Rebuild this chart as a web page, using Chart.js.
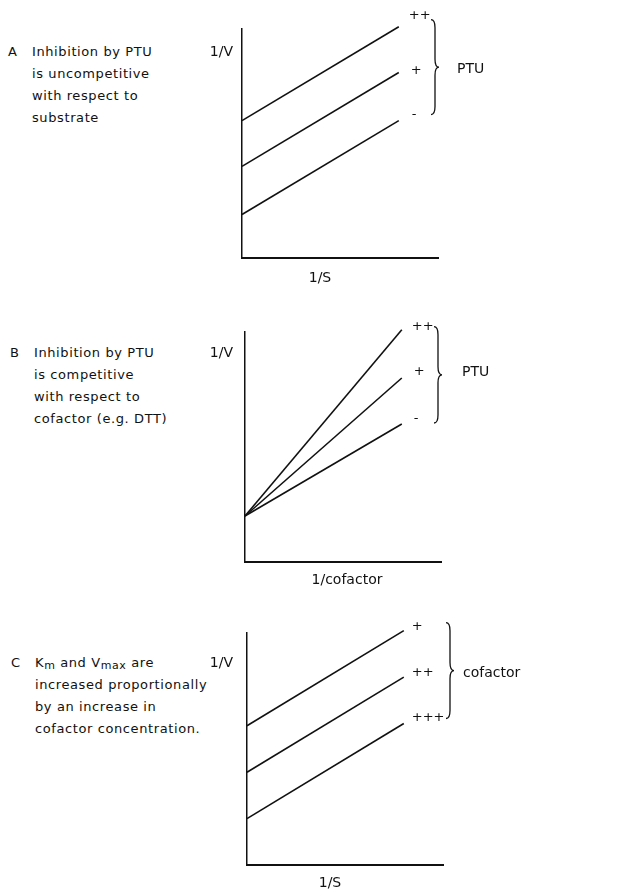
<!DOCTYPE html>
<html>
<head>
<meta charset="utf-8">
<script src="https://cdn.jsdelivr.net/npm/chart.js@4.4.1/dist/chart.umd.min.js"></script>
<style>
  html, body { margin: 0; padding: 0; background: #fff; }
  body { width: 619px; height: 891px; position: relative; overflow: hidden; font-family: "DejaVu Sans", sans-serif; color: #111; }
  canvas { position: absolute; left: 0; }
  .note { position: absolute; font-size: 13px; letter-spacing: 0.6px; line-height: 22px; white-space: nowrap; }
  .note .tag { position: absolute; left: -24px; }
  .note sub { font-size: 11px; vertical-align: -2px; line-height: 0; }
</style>
</head>
<body>
<div class="note" style="left:32px;top:41px"><span class="tag">A</span>Inhibition by PTU<br>is uncompetitive<br>with respect to<br>substrate</div>
<div class="note" style="left:34px;top:342px"><span class="tag">B</span>Inhibition by PTU<br>is competitive<br>with respect to<br>cofactor (e.g. DTT)</div>
<div class="note" style="left:35px;top:652px"><span class="tag">C</span>K<sub>m</sub> and V<sub>max</sub> are<br>increased proportionally<br>by an increase in<br>cofactor concentration.</div>

<canvas id="panelA" width="619" height="295" style="top:0"></canvas>
<canvas id="panelB" width="619" height="295" style="top:295px"></canvas>
<canvas id="panelC" width="619" height="301" style="top:590px"></canvas>

<script>
// x positions of the two ends of every line (1/S or 1/cofactor, arbitrary units)
const xPoints = [0, 1];

// panel A: uncompetitive, parallel lines
const levelsA = ['++', '+', '-'];
const seriesA = [[6.0, 10.1], [4.0, 8.1], [1.9, 6.0]];

// panel B: competitive, lines meet on the y axis
const levelsB = ['++', '+', '-'];
const seriesB = [[2.0, 10.1], [2.0, 8.0], [2.0, 6.0]];

// panel C: cofactor concentration
const levelsC = ['+', '++', '+++'];
const seriesC = [[6.0, 10.1], [4.0, 8.1], [2.0, 6.1]];

const ink = '#111';
const font = '14px "DejaVu Sans", sans-serif';
const levelFont = '13px "DejaVu Sans", sans-serif';

function drawBrace(ctx, x, y0, y1) {
    const m = (y0 + y1) / 2;
    const w = 4;
    ctx.beginPath();
    ctx.moveTo(x - w, y0);
    ctx.quadraticCurveTo(x, y0, x, y0 + 2 * w);
    ctx.lineTo(x, m - 2 * w);
    ctx.quadraticCurveTo(x, m, x + w, m);
    ctx.quadraticCurveTo(x, m, x, m + 2 * w);
    ctx.lineTo(x, y1 - 2 * w);
    ctx.quadraticCurveTo(x, y1, x - w, y1);
    ctx.stroke();
}

const annotate = {
    id: 'annotate',
    afterDatasetsDraw(chart, args, opts) {
        const ctx = chart.ctx;
        const a = chart.chartArea;
        const n = chart.data.datasets.length;
        ctx.save();
        ctx.fillStyle = ink;
        ctx.strokeStyle = ink;
        ctx.lineWidth = 1.3;
        ctx.font = font;
        ctx.textBaseline = 'middle';

        ctx.textAlign = 'right';
        ctx.fillText('1/V', a.left + opts.yTitleDx, a.top + opts.yTitleDy);

        ctx.textAlign = 'center';
        ctx.fillText(opts.xTitle, a.left + opts.xTitleDx, a.bottom + opts.xTitleDy);

        ctx.textAlign = 'left';
        ctx.font = levelFont;
        chart.data.datasets.forEach((ds, i) => {
            const end = chart.getDatasetMeta(i).data.at(-1);
            ctx.fillText(ds.label, end.x + opts.labelDx[i], end.y + opts.labelDy[i]);
        });

        ctx.font = font;
        const first = chart.getDatasetMeta(0).data.at(-1);
        const last = chart.getDatasetMeta(n - 1).data.at(-1);
        const bx = a.right + opts.braceDx;
        const top = first.y + opts.braceTop;
        const bottom = last.y + opts.braceBottom;
        drawBrace(ctx, bx, top, bottom);
        ctx.fillText(opts.group, bx + opts.groupDx, (top + bottom) / 2 + opts.groupDy);
        ctx.restore();
    }
};

function makePanel(id, levels, series, padding, notes) {
    const datasets = series.map((vals, i) => ({
        label: levels[i],
        data: xPoints.map((x, j) => ({ x: x, y: vals[j] })),
        borderColor: ink,
        borderWidth: 1.6,
        pointRadius: 0,
        tension: 0,
        clip: false
    }));

    new Chart(document.getElementById(id), {
        type: 'line',
        data: { datasets: datasets },
        options: {
            responsive: false,
            animation: false,
            devicePixelRatio: 1,
            layout: { padding: padding },
            plugins: {
                legend: { display: false },
                tooltip: { enabled: false },
                annotate: notes
            },
            scales: {
                x: {
                    type: 'linear',
                    min: 0,
                    max: 1.25,
                    ticks: { display: false },
                    grid: { display: false },
                    border: { display: true, color: ink, width: 2 },
                    afterFit: function (s) { s.height = 0; }
                },
                y: {
                    type: 'linear',
                    min: 0,
                    max: 10,
                    ticks: { display: false },
                    grid: { display: false },
                    border: { display: true, color: ink, width: 1.5 },
                    afterFit: function (s) { s.width = 0; }
                }
            }
        },
        plugins: [annotate]
    });
}

makePanel('panelA', levelsA, seriesA,
    { left: 242, right: 181, top: 29, bottom: 37 },
    { xTitle: '1/S', xTitleDx: 78, xTitleDy: 20, yTitleDx: -9, yTitleDy: 23,
      labelDx: [10, 12, 13], labelDy: [-11, -2, -6],
      braceDx: -3, braceTop: -7, braceBottom: -6, group: 'PTU', groupDx: 22, groupDy: 2 });

makePanel('panelB', levelsB, seriesB,
    { left: 245, right: 178, top: 37, bottom: 28 },
    { xTitle: '1/cofactor', xTitleDx: 102, xTitleDy: 18, yTitleDx: -12, yTitleDy: 21,
      labelDx: [10, 12, 12], labelDy: [-3, -6, -5],
      braceDx: -3, braceTop: -3, braceBottom: -1, group: 'PTU', groupDx: 24, groupDy: -2 });

makePanel('panelC', levelsC, seriesC,
    { left: 247, right: 176, top: 43, bottom: 26 },
    { xTitle: '1/S', xTitleDx: 83, xTitleDy: 18, yTitleDx: -14, yTitleDy: 30,
      labelDx: [8, 8, 8], labelDy: [-4, -4, -6],
      braceDx: 7, braceTop: -8, braceBottom: -5, group: 'cofactor', groupDx: 13, groupDy: 3 });
</script>
</body>
</html>
